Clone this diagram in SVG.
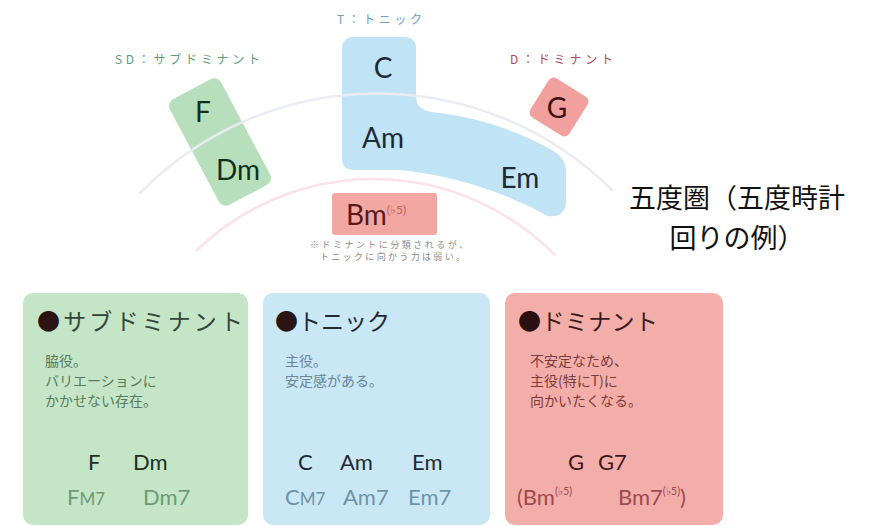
<svg xmlns="http://www.w3.org/2000/svg" width="879" height="526" viewBox="0 0 879 526">
<style>
.jp{font-family:"Noto Sans CJK JP","Noto Sans",sans-serif}
.chord{font-family:Lato,"Noto Sans",sans-serif;font-size:28px}
.lbl{font-family:"Noto Sans CJK JP","Noto Sans",sans-serif;font-size:12px}
.head{font-family:"Noto Sans CJK JP","Noto Sans",sans-serif;font-size:23px}
.desc{font-family:"Noto Sans CJK JP","Noto Sans",sans-serif;font-size:14px}
.row{font-family:Lato,"Noto Sans",sans-serif;font-size:22px}
.arc{fill:none;stroke-width:2.5;stroke-linecap:round}
</style>
<rect width="879" height="526" fill="#ffffff"/>

<g id="node-T">
<path d="M354,37 H404 Q416,37 416,49 V96 Q416,110 432,112 Q497,119 552,150 Q566,158 566,172 V200 Q566,218 548,216 Q478,178 400,170 H354 Q342,170 342,158 V49 Q342,37 354,37 Z" fill="#c0e3f5"/>
</g>
<g id="node-SD">
<rect x="191" y="82" width="58" height="120" rx="8" fill="#b8dfbc" transform="rotate(-28 220 142)"/>
</g>
<g id="node-D">
<rect x="536" y="84" width="46" height="46" rx="6" fill="#f1a09d" transform="rotate(32 559 107)"/>
</g>
<g id="node-Bm">
<rect x="332" y="193" width="105" height="42" rx="3" fill="#f2a7a3"/>
</g>

<g id="connectors">
<path class="arc" d="M140,193 A333,333 0 0 1 612,190" stroke="#eaecf2"/>
<path class="arc" d="M197,250 A255,255 0 0 1 555,255" stroke="#f9e2e9"/>
</g>

<g id="labels-top">
<text class="lbl" x="337" y="24" textLength="85" fill="#6c9fc2">T：トニック</text>
<text class="lbl" x="115" y="64" textLength="145" fill="#5c9c7a">SD：サブドミナント</text>
<text class="lbl" x="510" y="64" textLength="103" fill="#a8485a">D：ドミナント</text>
</g>

<g id="chords-top">
<text class="chord" x="383" y="78" text-anchor="middle" fill="#1e2a36">C</text>
<text class="chord" x="383" y="148" text-anchor="middle" fill="#1e2a36">Am</text>
<text class="chord" x="520" y="188" text-anchor="middle" font-size="25" fill="#1e2a36">Em</text>
<text class="chord" x="203" y="122" text-anchor="middle" fill="#10301a">F</text>
<text class="chord" x="238" y="180" text-anchor="middle" fill="#10301a">Dm</text>
<text class="chord" x="557" y="118" text-anchor="middle" font-size="25" fill="#3a1010">G</text>
<text class="chord" x="346" y="225" fill="#5a1818">Bm<tspan font-size="12" dy="-11" fill="#c06464">(♭5)</tspan></text>
</g>

<g id="note" class="jp" font-size="9" fill="#8a8a8a">
<text x="310" y="248" textLength="158">※ドミナントに分類されるが、</text>
<text x="320" y="260" textLength="145">トニックに向かう力は弱い。</text>
</g>

<g id="title" class="jp" font-size="27" fill="#111111" text-anchor="middle">
<text x="737" y="208">五度圏（五度時計</text>
<text x="737" y="248">回りの例）</text>
</g>

<g id="card-SD">
<rect x="23" y="293" width="225" height="232" rx="10" fill="#c4e6c7"/>
<text class="head" x="37" y="330" textLength="206" fill="#34453a"><tspan fill="#2a1414">●</tspan>サブドミナント</text>
<text class="desc" x="45" y="366" fill="#5a7a60">脇役。</text>
<text class="desc" x="45" y="386" fill="#5a7a60">バリエーションに</text>
<text class="desc" x="45" y="406" fill="#5a7a60">かかせない存在。</text>
<text class="row" x="88" y="470" fill="#1f2f22">F</text>
<text class="row" x="133" y="470" fill="#1f2f22">Dm</text>
<text class="row" x="67" y="505" fill="#6e9a78">F<tspan font-size="17">M7</tspan></text>
<text class="row" x="143" y="505" fill="#6e9a78">Dm7</text>
</g>

<g id="card-T">
<rect x="263" y="293" width="227" height="232" rx="10" fill="#c9e7f5"/>
<text class="head" x="275" y="330" textLength="115" fill="#222a30"><tspan fill="#2a1414">●</tspan>トニック</text>
<text class="desc" x="285" y="366" fill="#6a8595">主役。</text>
<text class="desc" x="285" y="386" fill="#6a8595">安定感がある。</text>
<text class="row" x="298" y="470" fill="#1f2a33">C</text>
<text class="row" x="340" y="470" fill="#1f2a33">Am</text>
<text class="row" x="412" y="470" fill="#1f2a33">Em</text>
<text class="row" x="285" y="505" fill="#6f93a6">C<tspan font-size="17">M7</tspan></text>
<text class="row" x="343" y="505" fill="#6f93a6">Am7</text>
<text class="row" x="408" y="505" fill="#6f93a6">Em7</text>
</g>

<g id="card-D">
<rect x="505" y="293" width="218" height="232" rx="10" fill="#f4aeaa"/>
<text class="head" x="518" y="330" textLength="140" fill="#3a1c1c"><tspan fill="#2a1010">●</tspan>ドミナント</text>
<text class="desc" x="530" y="366" fill="#7a3c3c">不安定なため、</text>
<text class="desc" x="530" y="386" fill="#7a3c3c">主役(特にT)に</text>
<text class="desc" x="530" y="406" fill="#7a3c3c">向かいたくなる。</text>
<text class="row" x="568" y="470" fill="#3a1818">G</text>
<text class="row" x="598" y="470" fill="#3a1818">G7</text>
<text class="row" x="517" y="505" fill="#9c4a4e">(Bm<tspan font-size="11" dy="-10">(♭5)</tspan></text>
<text class="row" x="618" y="505" fill="#9c4a4e">Bm7<tspan font-size="11" dy="-10">(♭5)</tspan><tspan dy="10">)</tspan></text>
</g>
</svg>
